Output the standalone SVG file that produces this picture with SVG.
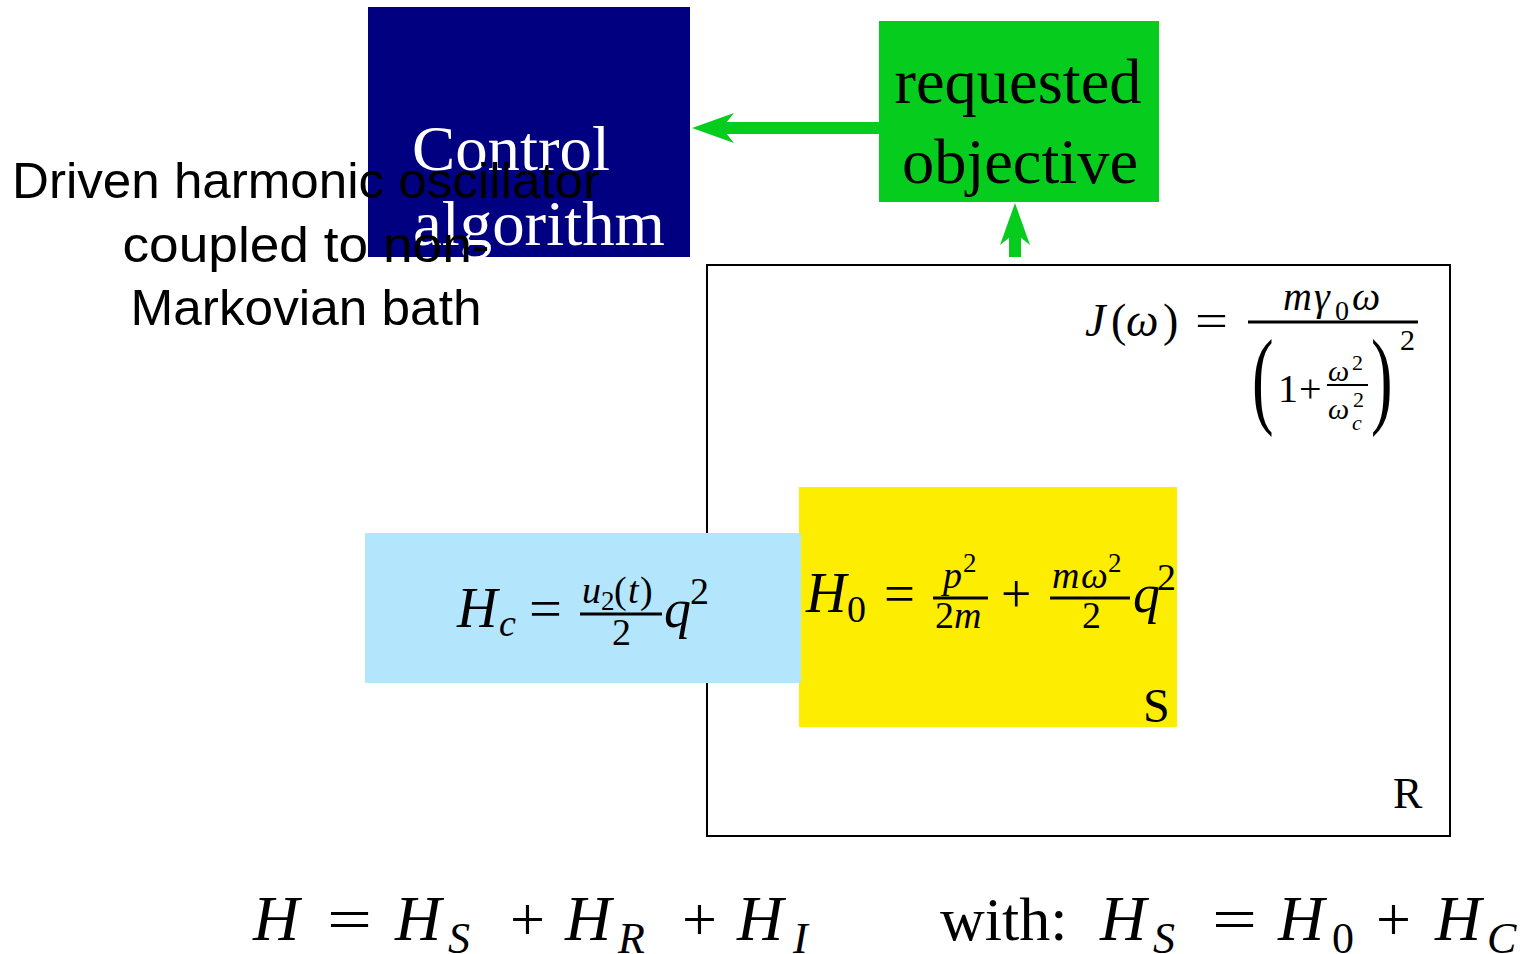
<svg xmlns="http://www.w3.org/2000/svg" width="1533" height="954" viewBox="0 0 1533 954">
<style>
.m{font-family:"Liberation Serif","DejaVu Serif",serif;fill:#000}
.i{font-style:italic}
.lbl{font-family:"Liberation Serif","DejaVu Serif",serif;font-size:64px}
.sans{font-family:"Liberation Sans","Arial",sans-serif;font-size:50px;fill:#000}
.bar{stroke:#000;stroke-width:3}
.g{fill:#06cc1e}
</style>
<rect width="1533" height="954" fill="#fff"/>
<g id="R">
<rect x="707" y="265" width="743" height="571" fill="#fff" stroke="#000" stroke-width="2"/>
<text class="m" x="1393" y="808" font-size="44">R</text>
</g>
<g id="J">
<text class="m i" x="1085" y="336" font-size="46">J</text>
<text class="m" x="1111" y="336" font-size="46">(</text>
<text class="m i" x="1126" y="336" font-size="46">ω</text>
<text class="m" x="1163" y="336" font-size="46">)</text>
<text class="m" x="1195" y="336" font-size="46" textLength="33" lengthAdjust="spacingAndGlyphs">=</text>
<text class="m i" x="1283" y="310" font-size="40">m</text>
<text class="m i" x="1314" y="310" font-size="40">γ</text>
<text class="m" x="1335" y="320" font-size="28">0</text>
<text class="m i" x="1352" y="310" font-size="40">ω</text>
<line class="bar" x1="1248" y1="322" x2="1418" y2="322"/>
<text class="m" transform="translate(1252,414) scale(0.6,1)" font-size="108">(</text>
<text class="m" x="1278" y="402" font-size="40">1</text>
<text class="m" x="1299" y="402" font-size="40">+</text>
<text class="m i" x="1328" y="381" font-size="30">ω</text>
<text class="m" x="1352" y="370" font-size="22">2</text>
<line x1="1327" y1="385" x2="1368" y2="385" stroke="#000" stroke-width="2"/>
<text class="m i" x="1328" y="419" font-size="30">ω</text>
<text class="m" x="1353" y="407" font-size="22">2</text>
<text class="m i" x="1352" y="430" font-size="22">c</text>
<text class="m" transform="translate(1371,414) scale(0.6,1)" font-size="108">)</text>
<text class="m" x="1400" y="350" font-size="30">2</text>
</g>
<g id="S">
<rect x="799" y="487" width="378" height="240" fill="#fded00"/>
<text class="m" x="1143" y="722" font-size="48">S</text>
<text class="m i" x="806" y="612" font-size="56">H</text>
<text class="m" x="847" y="622" font-size="38">0</text>
<text class="m" x="884" y="612" font-size="54" textLength="31" lengthAdjust="spacingAndGlyphs">=</text>
<text class="m i" x="943" y="588" font-size="38">p</text>
<text class="m" x="963" y="572" font-size="27">2</text>
<line class="bar" x1="933" y1="598" x2="988" y2="598"/>
<text class="m" x="935" y="628" font-size="38">2</text>
<text class="m i" x="954" y="628" font-size="38">m</text>
<text class="m" x="1001" y="612" font-size="54">+</text>
<text class="m i" x="1052" y="588" font-size="38">m</text>
<text class="m i" x="1081" y="588" font-size="38">ω</text>
<text class="m" x="1108" y="572" font-size="27">2</text>
<line class="bar" x1="1050" y1="598" x2="1130" y2="598"/>
<text class="m" x="1082" y="628" font-size="38">2</text>
<text class="m i" x="1133" y="612" font-size="54">q</text>
<text class="m" x="1157" y="590" font-size="38">2</text>
</g>
<g id="Hc">
<rect x="365" y="533" width="436" height="150" fill="#b3e5fc"/>
<text class="m i" x="457" y="627" font-size="56">H</text>
<text class="m i" x="499" y="636" font-size="38">c</text>
<text class="m" x="529" y="627" font-size="54" textLength="33" lengthAdjust="spacingAndGlyphs">=</text>
<text class="m i" x="582" y="603" font-size="38">u</text>
<text class="m" x="601" y="610" font-size="27">2</text>
<text class="m" x="614" y="603" font-size="38">(</text>
<text class="m i" x="628" y="603" font-size="38">t</text>
<text class="m" x="640" y="603" font-size="38">)</text>
<line class="bar" x1="580" y1="614" x2="662" y2="614"/>
<text class="m" x="612" y="645" font-size="38">2</text>
<text class="m i" x="664" y="627" font-size="54">q</text>
<text class="m" x="690" y="604" font-size="38">2</text>
</g>
<g id="control">
<rect x="368" y="7" width="322" height="250" fill="#000080"/>
<text class="lbl" x="511" y="170" text-anchor="middle" fill="#fff" textLength="198" lengthAdjust="spacingAndGlyphs">Control</text>
<text class="lbl" x="539" y="245" text-anchor="middle" fill="#fff" textLength="252" lengthAdjust="spacingAndGlyphs">algorithm</text>
</g>
<g id="objective">
<rect x="879" y="21" width="280" height="181" class="g"/>
<text class="lbl" x="1018" y="103" text-anchor="middle" fill="#000" textLength="247" lengthAdjust="spacingAndGlyphs">requested</text>
<text class="lbl" x="1020" y="183" text-anchor="middle" fill="#000" textLength="236" lengthAdjust="spacingAndGlyphs">objective</text>
</g>
<g id="connectors">
<rect x="722" y="122" width="157" height="12" class="g"/>
<path d="M692,128 L734,113 L722,128 L734,143 Z" class="g"/>
<rect x="1009" y="233" width="12" height="24" class="g"/>
<path d="M1015,203 L1000,245 L1015,233 L1030,245 Z" class="g"/>
</g>
<g id="title">
<text class="sans" x="306" y="198" text-anchor="middle" textLength="588" lengthAdjust="spacingAndGlyphs">Driven harmonic oscillator</text>
<text class="sans" x="306" y="262" text-anchor="middle" textLength="367" lengthAdjust="spacingAndGlyphs">coupled to non-</text>
<text class="sans" x="306" y="325" text-anchor="middle" textLength="351" lengthAdjust="spacingAndGlyphs">Markovian bath</text>
</g>
<g id="equation">
<text class="m i" x="253" y="940" font-size="64">H</text>
<text class="m" x="327" y="940" font-size="62" textLength="45" lengthAdjust="spacingAndGlyphs">=</text>
<text class="m i" x="395" y="940" font-size="64">H</text>
<text class="m i" x="448" y="953" font-size="44">S</text>
<text class="m" x="510" y="940" font-size="62">+</text>
<text class="m i" x="565" y="940" font-size="64">H</text>
<text class="m i" x="618" y="953" font-size="44">R</text>
<text class="m" x="682" y="940" font-size="62">+</text>
<text class="m i" x="737" y="940" font-size="64">H</text>
<text class="m i" x="793" y="953" font-size="44">I</text>
<text class="m" x="940" y="940" font-size="62">with:</text>
<text class="m i" x="1100" y="940" font-size="64">H</text>
<text class="m i" x="1153" y="953" font-size="44">S</text>
<text class="m" x="1212" y="940" font-size="62" textLength="45" lengthAdjust="spacingAndGlyphs">=</text>
<text class="m i" x="1278" y="940" font-size="64">H</text>
<text class="m" x="1332" y="953" font-size="44">0</text>
<text class="m" x="1376" y="940" font-size="62">+</text>
<text class="m i" x="1435" y="940" font-size="64">H</text>
<text class="m i" x="1487" y="953" font-size="44">C</text>
</g>
</svg>
